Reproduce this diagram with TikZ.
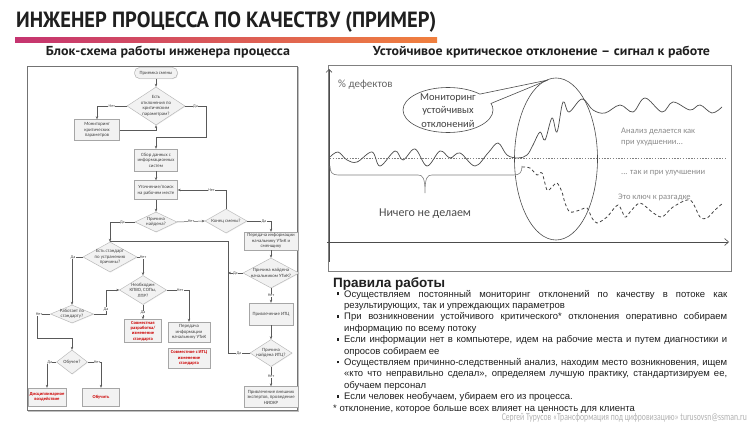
\documentclass[tikz,border=0pt]{standalone}
\usepackage{fontspec}
\usepackage{graphicx}
\setmainfont{Liberation Sans}
\newfontfamily\ptsans{PT Sans}
\newfontfamily\carl{Carlito}
\usetikzlibrary{arrows.meta,shapes.geometric,shapes.callouts,shadows,calc}
\newcommand\bul{\noindent\hangindent=11pt\hangafter=1\makebox[11pt][l]{\hspace{3.5pt}\rule[2pt]{2.6pt}{2.6pt}}}
\tikzset{
  fbox/.style={rectangle, draw=black!35, fill=black!5, line width=0.4pt, inner sep=0.6pt, align=center,
    font=\carl\fontsize{4.8}{5.5}\selectfont, text=black!75,
    drop shadow={opacity=0.18, shadow xshift=0.6pt, shadow yshift=-0.6pt}},
  fdia/.style={diamond, draw=black!30, fill=black!5, line width=0.4pt, inner sep=0pt,
    drop shadow={opacity=0.15, shadow xshift=0.6pt, shadow yshift=-0.6pt}},
  ftxt/.style={align=center, inner sep=0pt, font=\carl\fontsize{4.8}{5.5}\selectfont, text=black!75},
  redt/.style={text=red!80!black, font=\carl\bfseries\fontsize{4.6}{5.4}\selectfont},
  fl/.style={draw=black!65, line width=0.5pt, -{Stealth[length=3pt,width=2.4pt]}},
  fline/.style={draw=black!65, line width=0.5pt},
  lab/.style={fill=white, inner sep=0.3pt, font=\carl\fontsize{4.2}{4.6}\selectfont, text=black!70},
  glab/.style={anchor=west, inner sep=0pt, font=\carl\fontsize{8.5}{10}\selectfont, text=black!45},
}
\begin{document}
\begin{tikzpicture}[x=1pt,y=-1pt]
\useasboundingbox (0,0) rectangle (750,422);
\fill[white] (0,0) rectangle (750,422);

% title
\node[anchor=base west, inner sep=0, font=\ptsans\bfseries\fontsize{22}{24}\selectfont, text=black!88] (title) at (16,28)
  {\resizebox{420pt}{\height}{ИНЖЕНЕР ПРОЦЕССА ПО КАЧЕСТВУ (ПРИМЕР)}};
\shade[left color={rgb,255:red,197;green,52;blue,112}, right color={rgb,255:red,240;green,128;blue,62}] (15,38) rectangle (437,42.5);

\node[inner sep=0, font=\ptsans\bfseries\fontsize{13}{15}\selectfont, text=black!88] (h1) at (168,52)
  {\resizebox{244pt}{\height}{Блок-схема работы инженера процесса}};
\node[inner sep=0, font=\ptsans\bfseries\fontsize{13}{15}\selectfont, text=black!88] (h2) at (541.5,52)
  {\resizebox{337pt}{\height}{Устойчивое критическое отклонение – сигнал к работе}};

% ---------------- flowchart ----------------
\draw[black!55, line width=0.8pt] (27,66) rectangle (297,410);
\draw[black!25, line width=1pt] (28,411.2) -- (298.2,411.2) -- (298.2,67);

\node[fbox, rounded corners=5pt, minimum width=43, minimum height=11] (n1) at (156,73) {Приемка смены};
\node[fdia, minimum width=58, minimum height=38] (d1) at (156,106) {};
\node[ftxt] (t1) at (d1) {Есть\\отклонения по\\критическим\\параметрам?};
\node[fbox, minimum width=45, minimum height=21] (n2) at (97,130) {Мониторинг\\критических\\параметров};
\node[fbox, minimum width=43, minimum height=22] (n3) at (156,160) {Сбор данных с\\информационных\\систем};
\node[fbox, minimum width=43, minimum height=19] (n4) at (156,190) {Уточнение/поиск\\на рабочем месте};
\node[fdia, minimum width=42, minimum height=20] (d2) at (156,222) {};
\node[ftxt] (t2) at (d2) {Причина\\найдена?};
\node[fdia, minimum width=42, minimum height=24] (d3) at (226,221) {};
\node[ftxt] (t3) at (d3) {Конец смены?};
\node[fbox, minimum width=54, minimum height=18] (n5) at (271,241) {Передача информации\\начальнику УТиК и\\сменщику};
\node[fdia, minimum width=56, minimum height=30] (d4) at (271,273) {};
\node[ftxt] (t4) at (d4) {Причина найдена\\начальником УТиК?};
\node[fbox, minimum width=44, minimum height=22] (n6) at (271,314) {Привлечение ИТЦ};
\node[fdia, minimum width=42, minimum height=27] (d5) at (271,353) {};
\node[ftxt] (t5) at (d5) {Причина\\найдена ИТЦ?};
\node[fbox, minimum width=54, minimum height=21] (n7) at (271,397) {Привлечение внешних\\экспертов, проведение\\НИОКР};
\node[fdia, minimum width=54, minimum height=30] (d6) at (110,257) {};
\node[ftxt] (t6) at (d6) {Есть стандарт\\по устранению\\причины?};
\node[fdia, minimum width=43, minimum height=18] (d7) at (72,314) {};
\node[ftxt] (t7) at (d7) {Работает по\\стандарту?};
\node[fdia, minimum width=47, minimum height=29] (d8) at (143,290) {};
\node[ftxt] (t8) at (d8) {Необходим\\КПВО, СОПы,\\ЛПР?};
\node[fdia, minimum width=31, minimum height=24] (d9) at (72,362) {};
\node[ftxt] (t9) at (d9) {Обучен?};
\node[fbox, redt, minimum width=38, minimum height=18] (n8) at (47,397) {Дисциплинарное\\воздействие};
\node[fbox, redt, minimum width=37, minimum height=18] (n9) at (101,397) {Обучить};
\node[fbox, redt, minimum width=37, minimum height=23] (n10) at (143,331) {Совместная\\разработка/\\изменение\\стандарта};
\node[fbox, minimum width=42, minimum height=20] (n11) at (189,332) {Передача\\информации\\начальнику УТиК};
\node[fbox, redt, minimum width=42, minimum height=20] (n12) at (189,358) {Совместное с ИТЦ\\изменение\\стандарта};

\coordinate (c1) at (206,137);
\coordinate (j1) at (228,241);
\coordinate (j2) at (106,290);
\coordinate (j3) at (37,338);

\draw[fl] (n1) -- (d1);
\draw[fl] (d1.west) -| node[lab, pos=0.25]{Нет} (n2.north);
\draw[fl] (n2.east) -| (d1.south);
\draw[fl] (d1.east) -- node[lab]{Да} (d1.east -| c1) -- (c1) -| (n3.north);
\draw[fl] (n3) -- (n4);
\draw[fl] (n4) -- (d2);
\draw[fl] (d2.east) -- node[lab]{Нет} (d3.west);
\draw[fl] (d3.north) |- node[lab, pos=0.65]{Нет} (n4.east);
\draw[fl] (d3.east) -| node[lab, pos=0.35]{Да} (n5.north);
\draw[fl] (n5) -- (d4);
\draw[fl] (d4.south) -- node[lab]{Нет} (n6.north);
\draw[fl] (n6) -- (d5);
\draw[fl] (d5.south) -- node[lab]{Нет} (n7.north);
\draw[fline] (d5.west) -- node[lab]{Да} (d5.west -| j1) -- (j1) -- (j1 -| d6.north);
\draw[fl] (d4.west) -- node[lab]{Да} (d4.west -| j1);
\draw[fl] (d2.west) -- node[lab]{Да} (d2.west -| d6.north) -- (d6.north);
\draw[fl] (d6.west) -| node[lab, pos=0.45]{Да} (d7.north);
\draw[fl] (d6.east) -| node[lab, pos=0.5]{Нет} (d8.north);
\draw[fl] (d7.east) -- (d7.east -| j2) -- node[lab, pos=0.2]{Да} (j2) -- (d8.west);
\draw[fl] (d7.west) -- node[lab, pos=0.85]{Нет} (d7.west -| j3) -- (j3) -- (j3 -| d9.north) -- (d9.north);
\draw[fl] (d9.west) -| node[lab, pos=0.35]{Да} (n8.north);
\draw[fl] (d9.east) -| node[lab, pos=0.35]{Нет} (n9.north);
\draw[fl] (d8.south) -- node[lab, pos=0.55]{Да} (n10.north);
\draw[fl] (d8.east) -| node[lab, pos=0.3]{Нет} (n11.north);

% ---------------- chart ----------------
\draw[black!50, line width=1pt] (328,66) rectangle (731,272);
\draw[black!70, line width=0.6pt, -{Straight Barb[length=3pt,width=6pt]}] (329,262) -- (329,69);
\draw[black!70, line width=0.6pt, -{Straight Barb[length=4pt,width=7pt]}] (327,242) -- (729,242);
\draw[black!50, line width=0.6pt, dash pattern=on 1.4pt off 1.4pt] (330,158) -- (727,158);

\draw[black!70, line width=0.7pt] plot[smooth, tension=0.6] coordinates {
 (330,157) (338,152) (347,160) (357,162) (372,152) (380,166) (395,151) (403,160) (415,149)
 (427,166) (440,151) (450,158) (460,153) (475,166) (488,153) (498,143) (507,155) (518,158)
 (527,155) (533,145) (540,132) (545,140) (552,118) (557,132) (563,102) (569,112) (582,99)
 (593,110) (605,113) (620,105) (633,112) (645,98) (662,112) (673,102) (690,110) (700,105)
 (712,113) (722,107)};
\draw[black!75, line width=0.8pt, dash pattern=on 3pt off 2.5pt] plot[smooth, tension=0.5] coordinates {
 (522,167) (530,168) (537,175) (542,173) (547,190) (552,187) (557,183) (562,192) (565,203)
 (570,212) (580,210) (587,208) (592,218) (597,223) (607,217) (618,205) (625,217) (630,212)
 (640,203) (652,212) (662,217) (673,207) (690,200) (700,217) (707,218) (715,210) (723,203)};

\draw[black!70, line width=0.6pt] (556,159) ellipse [x radius=41.5, y radius=81];

\node[ellipse callout, draw=black!70, line width=0.6pt, fill=white, inner sep=0pt,
  minimum width=90, minimum height=45, callout pointer arc=28,
  callout absolute pointer={(548,80)}] (co) at (448,110) {};
\node[align=center, inner sep=0, font=\carl\fontsize{10.5}{13.5}\selectfont, text=black!75] (cot) at (448,110.5)
  {Мониторинг\\устойчивых\\отклонений};

\node[anchor=west, inner sep=0, font=\carl\fontsize{11}{13}\selectfont, text=black!60] (ylab) at (338,85) {\% дефектов};

\draw[black!50, line width=0.6pt] (330,166) .. controls (330,172) and (332,175) .. (338,175) -- (418,175)
  .. controls (423,175) and (425,178) .. (425,193)
  .. controls (425,178) and (427,175) .. (432,175) -- (514,175)
  .. controls (520,175) and (522,172) .. (522,166);
\node[inner sep=0, font=\carl\fontsize{12}{14}\selectfont, text=black!70] (nothing) at (425,214) {Ничего не делаем};

\node[glab] (g1) at (621,131) {Анализ делается как};
\node[glab] (g2) at (621,143) {при ухудшении...};
\node[glab] (g3) at (621,173) {... так и при улучшении};
\node[glab] (g4) at (618,197) {Это ключ к разгадке};

% ---------------- rules ----------------
\node[anchor=north west, inner sep=0, text width=394pt, align=justify,
  font=\fontsize{9.5}{11.4}\selectfont, text=black!88] (rules) at (333,277) {%
{\bfseries\fontsize{13.5}{14}\selectfont Правила работы}\par\vspace{-1.5pt}
\bul Осуществляем постоянный мониторинг отклонений по качеству в потоке как\linebreak результирующих, так и упреждающих параметров\par
\bul При возникновении устойчивого критического* отклонения оперативно собираем\linebreak информацию по всему потоку\par
\bul Если информации нет в компьютере, идем на рабочие места и путем диагностики и\linebreak опросов собираем ее\par
\bul Осуществляем причинно-следственный анализ, находим место возникновения, ищем\linebreak «кто что неправильно сделал», определяем лучшую практику, стандартизируем ее,\linebreak обучаем персонал\par
\bul Если человек необучаем, убираем его из процесса.\par
\noindent * отклонение, которое больше всех влияет на ценность для клиента};

\node[anchor=base east, inner sep=0, font=\carl\fontsize{10.5}{12}\selectfont, text=black!30] (foot) at (747,420.5)
  {\resizebox{245pt}{\height}{Сергей Турусов «Трансформация под цифровизацию» turusovsn@ssman.ru}};
\end{tikzpicture}
\end{document}
